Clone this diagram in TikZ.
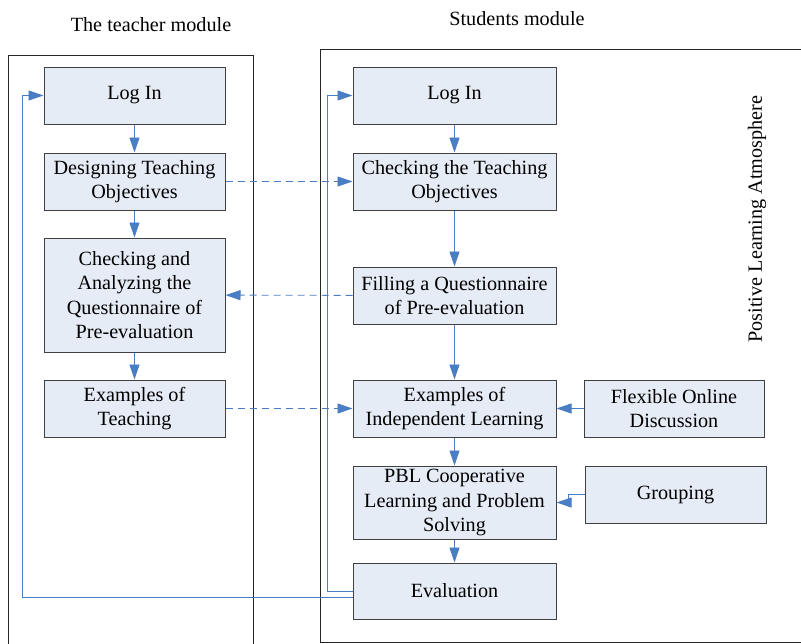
\documentclass[tikz,border=0pt]{standalone}
\usepackage{fontspec}
\setmainfont{Liberation Serif}
\usetikzlibrary{arrows.meta}
\definecolor{boxfill}{RGB}{230,236,246}
\definecolor{linkblue}{RGB}{74,126,196}
\tikzset{
  box/.style={draw=black!75, fill=boxfill, line width=1pt, align=center,
    inner sep=0pt, font=\fontsize{20.2}{24.5}\selectfont},
  tbox/.style={box, minimum width=181pt},
  sbox/.style={box, minimum width=203pt},
  link/.style={draw=linkblue, line width=0.9pt, -{Triangle[length=15pt,width=10pt]}},
  dlink/.style={link, dash pattern=on 7pt off 5pt},
  frame/.style={draw=black!85, line width=1pt},
  ttext/.style={font=\fontsize{20.2}{24}\selectfont}
}
\begin{document}
\begin{tikzpicture}[x=1pt,y=-1pt]
  \useasboundingbox (0,0) rectangle (801,643);
  \draw[frame] (8,55) rectangle (253,670);
  \draw[frame] (320,49) rectangle (830,642);
  \node[ttext] (ttl) at (151,25) {The teacher module};
  \node[ttext] (stl) at (517,19) {Students module};
  \node[ttext, rotate=90] (atm) at (757,219) {Positive Learning Atmosphere};
  % teacher side
  \node[tbox, minimum height=57pt] (tlog) at (134.5,95.5) {Log In};
  \node[tbox, minimum height=57pt] (tdes) at (134.5,181.5) {Designing Teaching\\Objectives};
  \node[tbox, minimum height=114pt] (tana) at (134.5,295) {Checking and\\Analyzing the\\Questionnaire of\\Pre-evaluation};
  \node[tbox, minimum height=57pt] (texa) at (134.5,408.5) {Examples of\\Teaching};
  % student side
  \node[sbox, minimum height=57pt] (slog) at (454.5,95.5) {Log In};
  \node[sbox, minimum height=57pt] (sobj) at (454.5,181.5) {Checking the Teaching\\Objectives};
  \node[sbox, minimum height=57pt] (sque) at (454.5,295.5) {Filling a Questionnaire\\of Pre-evaluation};
  \node[sbox, minimum height=57pt] (sexa) at (454.5,408.5) {Examples of\\Independent Learning};
  \node[sbox, minimum height=73pt] (spbl) at (454.5,502.5) {PBL Cooperative\\Learning and Problem\\Solving};
  \node[sbox, minimum height=56pt] (seva) at (454.5,591) {Evaluation};
  \node[box, minimum width=180pt, minimum height=57pt] (disc) at (674,408.5) {Flexible Online\\Discussion};
  \node[box, minimum width=181pt, minimum height=57pt] (grp) at (675.5,494.5) {Grouping};
  \begin{scope}[link]
    \draw (tlog) -- (tdes);
    \draw (tdes) -- (tana);
    \draw (tana) -- (texa);
    \draw (slog) -- (sobj);
    \draw (sobj) -- (sque);
    \draw (sque) -- (sexa);
    \draw (sexa) -- (spbl);
    \draw (spbl) -- (seva);
    \draw (disc) -- (sexa);
    \draw (grp.west) -- ++(-16,0) |- (spbl.east);
    \draw (seva.west) -- ++(-25,0) |- (slog.west);
    \draw ([yshift=-6pt]seva.west) -- ++(-330,0) |- (tlog.west);
  \end{scope}
  \begin{scope}[dlink]
    \draw (tdes) -- (sobj);
    \draw (sque) -- (tana);
    \draw (texa) -- (sexa);
  \end{scope}
\end{tikzpicture}
\end{document}
